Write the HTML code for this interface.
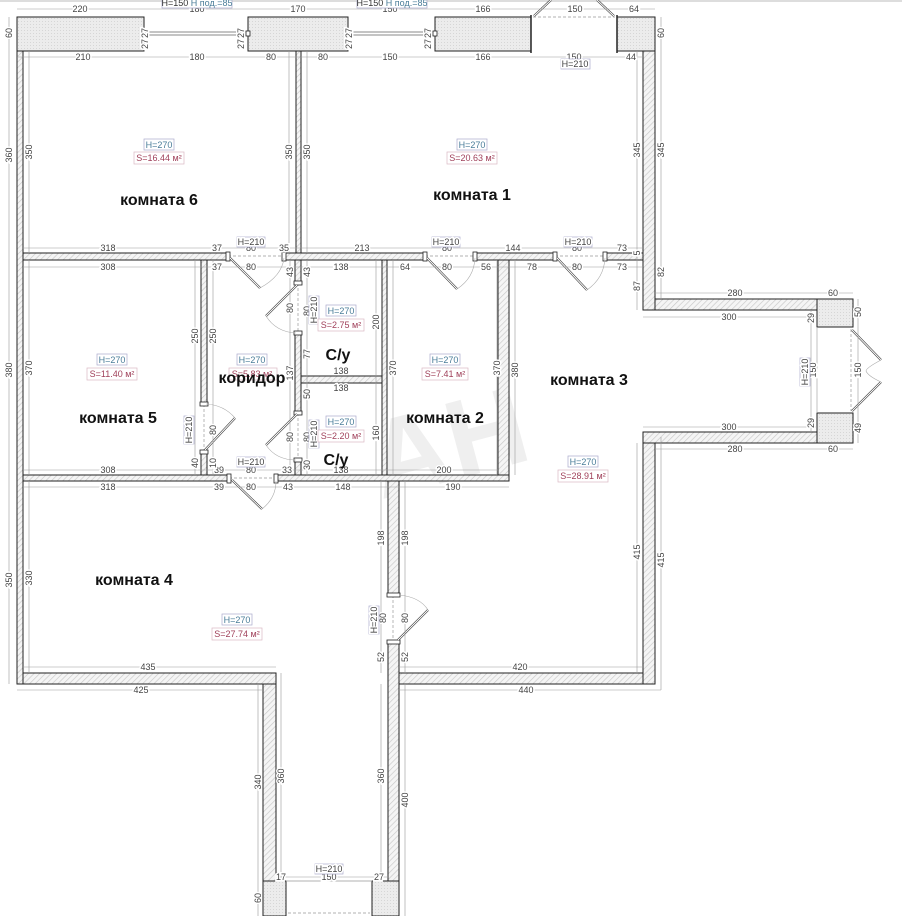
<!DOCTYPE html>
<html><head><meta charset="utf-8"><style>
html,body{margin:0;padding:0;background:#fff}
svg{display:block}
.d{font-family:"Liberation Sans",sans-serif;font-size:9px;fill:#444;text-anchor:middle;paint-order:stroke;stroke:#fff;stroke-width:3px}
.r{font-family:"Liberation Sans","DejaVu Sans",sans-serif;font-size:16px;font-weight:bold;fill:#111;text-anchor:middle}
.hb{fill:#fff;stroke:#aac;stroke-width:.7}
.ht{font-family:"Liberation Sans",sans-serif;font-size:9px;fill:#4a7d99;text-anchor:middle}
.st{font-family:"Liberation Sans",sans-serif;font-size:9px;fill:#a0405a;text-anchor:middle}
.sb{fill:#fff;stroke:#d9b8c2;stroke-width:.7}
.w{fill:url(#h);stroke:#222;stroke-width:1}
.x{fill:url(#g);stroke:#222;stroke-width:1}
.dl{stroke:#999;stroke-width:.6;fill:none}
.dr{stroke:#333;stroke-width:2.2;fill:none}
.dr2{stroke:#fff;stroke-width:1;fill:none}
.arc{stroke:#aaa;stroke-width:.6;fill:none}
.op{stroke:#999;stroke-width:.7;stroke-dasharray:3 2;fill:none}
</style></head><body>
<svg width="902" height="916" viewBox="0 0 902 916" xmlns="http://www.w3.org/2000/svg">
<defs>
<pattern id="h" width="4" height="4" patternUnits="userSpaceOnUse" patternTransform="rotate(45)">
<rect width="4" height="4" fill="#f5f5f5"/><line x1="0" y1="0" x2="0" y2="4" stroke="#c8c8c8" stroke-width="1.3"/></pattern>
<pattern id="g" width="3" height="3" patternUnits="userSpaceOnUse">
<rect width="3" height="3" fill="#ececec"/><rect width="1" height="1" fill="#d6d6d6"/></pattern>
</defs>
<line x1="0" y1="1" x2="902" y2="1" stroke="#bbb" stroke-width="1"/>

<text x="450" y="480" font-family="Liberation Sans,sans-serif" font-size="110" font-weight="bold" fill="#efefef" text-anchor="middle" transform="rotate(-15 450 450)">АН</text>

<rect class="x" x="17" y="17" width="127" height="34"/>
<rect class="x" x="248" y="17" width="100" height="34"/>
<rect class="x" x="435" y="17" width="96" height="34"/>
<rect class="x" x="617" y="17" width="38" height="34"/>
<line x1="144" y1="32" x2="248" y2="32" stroke="#888"/><line x1="144" y1="35" x2="248" y2="35" stroke="#888"/>
<line x1="348" y1="32" x2="435" y2="32" stroke="#888"/><line x1="348" y1="35" x2="435" y2="35" stroke="#888"/>
<line x1="144" y1="17" x2="144" y2="51" stroke="#222"/><line x1="248" y1="17" x2="248" y2="51" stroke="#222"/>
<line x1="348" y1="17" x2="348" y2="51" stroke="#222"/><line x1="435" y1="17" x2="435" y2="51" stroke="#222"/>
<rect x="142" y="31" width="4" height="5" fill="#fff" stroke="#222" stroke-width=".8"/><rect x="246" y="31" width="4" height="5" fill="#fff" stroke="#222" stroke-width=".8"/>
<rect x="346" y="31" width="4" height="5" fill="#fff" stroke="#222" stroke-width=".8"/><rect x="433" y="31" width="4" height="5" fill="#fff" stroke="#222" stroke-width=".8"/>
<line class="op" x1="533" y1="17" x2="615" y2="17"/>
<line class="dr" x1="534" y1="16" x2="551" y2="0"/><line class="dr2" x1="534" y1="16" x2="551" y2="0"/>
<line class="dr" x1="614" y1="16" x2="597" y2="0"/><line class="dr2" x1="614" y1="16" x2="597" y2="0"/>
<line x1="531" y1="15" x2="531" y2="53" stroke="#222" stroke-width="1.5"/><line x1="617" y1="15" x2="617" y2="53" stroke="#222" stroke-width="1.5"/>

<rect class="w" x="17" y="51" width="6" height="633"/>
<rect class="w" x="643" y="51" width="12" height="259"/>
<rect class="w" x="655" y="299" width="162" height="11"/>
<rect class="x" x="817" y="299" width="36" height="28"/>
<rect class="w" x="643" y="432" width="174" height="11"/>
<rect class="x" x="817" y="413" width="36" height="30"/>
<rect class="w" x="643" y="443" width="12" height="241"/>
<rect class="w" x="399" y="673" width="244" height="11"/>
<rect class="w" x="23" y="673" width="253" height="11"/>
<rect class="w" x="263" y="684" width="13" height="197"/>
<rect class="x" x="263" y="881" width="23" height="35"/>
<rect class="w" x="388" y="480" width="11" height="115"/>
<rect class="w" x="388" y="642" width="11" height="239"/>
<rect class="x" x="372" y="881" width="27" height="35"/>
<line class="op" x1="288" y1="913" x2="370" y2="913"/>
<line x1="286" y1="881" x2="372" y2="881" stroke="#999" stroke-width=".7"/>
<line class="op" x1="851" y1="329" x2="851" y2="411"/>
<line x1="817" y1="327" x2="817" y2="413" stroke="#999" stroke-width=".6"/>
<line class="dr" x1="852" y1="330" x2="881" y2="360"/><line class="dr2" x1="852" y1="330" x2="881" y2="360"/>
<line class="dr" x1="852" y1="411" x2="881" y2="382"/><line class="dr2" x1="852" y1="411" x2="881" y2="382"/>
<path class="arc" d="M881 360 Q866 368 866 371 M866 371 Q868 376 881 382"/>

<rect class="w" x="23" y="253" width="205" height="7"/>
<rect class="w" x="284" y="253" width="141" height="7"/>
<rect class="w" x="475" y="253" width="80" height="7"/>
<rect class="w" x="605" y="253" width="38" height="7"/>
<rect class="w" x="296" y="51" width="5" height="202"/>
<rect class="w" x="201" y="260" width="6" height="144"/>
<rect class="w" x="201" y="452" width="6" height="23"/>
<rect class="w" x="295" y="260" width="6" height="23"/>
<rect class="w" x="295" y="333" width="6" height="80"/>
<rect class="w" x="295" y="460" width="6" height="15"/>
<rect class="w" x="301" y="376" width="81" height="7"/>
<rect class="w" x="382" y="260" width="5" height="215"/>
<rect class="w" x="498" y="260" width="11" height="215"/>
<rect class="w" x="23" y="475" width="206" height="6"/>
<rect class="w" x="276" y="475" width="233" height="6"/>

<g>
<line class="op" x1="228" y1="256" x2="284" y2="256"/>
<rect x="226" y="252" width="4" height="9" fill="#fff" stroke="#222" stroke-width=".8"/><rect x="282" y="252" width="4" height="9" fill="#fff" stroke="#222" stroke-width=".8"/>
<line class="dr" x1="230" y1="258" x2="260" y2="288"/><line class="dr2" x1="230" y1="258" x2="260" y2="288"/>
<path class="arc" d="M260 288 Q282 276 284 258"/>
<line class="op" x1="425" y1="256" x2="475" y2="256"/>
<rect x="423" y="252" width="4" height="9" fill="#fff" stroke="#222" stroke-width=".8"/><rect x="473" y="252" width="4" height="9" fill="#fff" stroke="#222" stroke-width=".8"/>
<line class="dr" x1="427" y1="258" x2="457" y2="289"/><line class="dr2" x1="427" y1="258" x2="457" y2="289"/>
<path class="arc" d="M457 289 Q474 278 475 258"/>
<line class="op" x1="555" y1="256" x2="605" y2="256"/>
<rect x="553" y="252" width="4" height="9" fill="#fff" stroke="#222" stroke-width=".8"/><rect x="603" y="252" width="4" height="9" fill="#fff" stroke="#222" stroke-width=".8"/>
<line class="dr" x1="557" y1="258" x2="587" y2="290"/><line class="dr2" x1="557" y1="258" x2="587" y2="290"/>
<path class="arc" d="M587 290 Q604 278 605 258"/>
<line class="op" x1="298" y1="283" x2="298" y2="333"/>
<rect x="294" y="281" width="8" height="4" fill="#fff" stroke="#222" stroke-width=".8"/><rect x="294" y="331" width="8" height="4" fill="#fff" stroke="#222" stroke-width=".8"/>
<line class="dr" x1="297" y1="285" x2="266" y2="316"/><line class="dr2" x1="297" y1="285" x2="266" y2="316"/>
<path class="arc" d="M266 316 Q276 332 296 333"/>
<line class="op" x1="298" y1="413" x2="298" y2="460"/>
<rect x="294" y="411" width="8" height="4" fill="#fff" stroke="#222" stroke-width=".8"/><rect x="294" y="458" width="8" height="4" fill="#fff" stroke="#222" stroke-width=".8"/>
<line class="dr" x1="297" y1="414" x2="266" y2="445"/><line class="dr2" x1="297" y1="414" x2="266" y2="445"/>
<path class="arc" d="M266 445 Q276 460 296 460"/>
<line class="op" x1="204" y1="404" x2="204" y2="452"/>
<rect x="200" y="402" width="8" height="4" fill="#fff" stroke="#222" stroke-width=".8"/><rect x="200" y="450" width="8" height="4" fill="#fff" stroke="#222" stroke-width=".8"/>
<line class="dr" x1="205" y1="450" x2="235" y2="418"/><line class="dr2" x1="205" y1="450" x2="235" y2="418"/>
<path class="arc" d="M235 418 Q224 405 206 404"/>
<line class="op" x1="229" y1="478" x2="276" y2="478"/>
<rect x="227" y="474" width="4" height="9" fill="#fff" stroke="#222" stroke-width=".8"/><rect x="274" y="474" width="4" height="9" fill="#fff" stroke="#222" stroke-width=".8"/>
<line class="dr" x1="232" y1="480" x2="262" y2="509"/><line class="dr2" x1="232" y1="480" x2="262" y2="509"/>
<path class="arc" d="M262 509 Q276 498 276 481"/>
<line class="op" x1="393" y1="595" x2="393" y2="642"/>
<rect x="387" y="593" width="13" height="4" fill="#fff" stroke="#222" stroke-width=".8"/><rect x="387" y="640" width="13" height="4" fill="#fff" stroke="#222" stroke-width=".8"/>
<line class="dr" x1="398" y1="640" x2="428" y2="610"/><line class="dr2" x1="398" y1="640" x2="428" y2="610"/>
<path class="arc" d="M428 610 Q420 597 399 595"/>
</g>

<g class="dl">
<line x1="17" y1="9" x2="655" y2="9"/><line x1="17" y1="57" x2="643" y2="57"/>
<line x1="9" y1="17" x2="9" y2="684"/><line x1="29" y1="51" x2="29" y2="253"/><line x1="289" y1="51" x2="289" y2="253"/>
<line x1="307" y1="51" x2="307" y2="253"/><line x1="637" y1="51" x2="637" y2="310"/><line x1="661" y1="17" x2="661" y2="299"/>
<line x1="23" y1="248" x2="643" y2="248"/><line x1="23" y1="267" x2="643" y2="267"/>
<line x1="23" y1="470" x2="498" y2="470"/><line x1="23" y1="487" x2="509" y2="487"/>
<line x1="29" y1="260" x2="29" y2="475"/><line x1="29" y1="481" x2="29" y2="673"/>
<line x1="195" y1="260" x2="195" y2="475"/><line x1="213" y1="260" x2="213" y2="475"/>
<line x1="290" y1="260" x2="290" y2="475"/><line x1="307" y1="260" x2="307" y2="475"/>
<line x1="376" y1="260" x2="376" y2="475"/><line x1="393" y1="260" x2="393" y2="475"/>
<line x1="497" y1="260" x2="497" y2="475"/><line x1="515" y1="260" x2="515" y2="475"/>
<line x1="381" y1="481" x2="381" y2="673"/><line x1="405" y1="481" x2="405" y2="673"/>
<line x1="23" y1="667" x2="276" y2="667"/><line x1="17" y1="690" x2="263" y2="690"/>
<line x1="399" y1="667" x2="643" y2="667"/><line x1="399" y1="690" x2="661" y2="690"/>
<line x1="637" y1="443" x2="637" y2="673"/><line x1="661" y1="437" x2="661" y2="690"/>
<line x1="258" y1="684" x2="258" y2="916"/><line x1="281" y1="673" x2="281" y2="881"/>
<line x1="381" y1="684" x2="381" y2="881"/><line x1="405" y1="684" x2="405" y2="916"/>
<line x1="276" y1="877" x2="388" y2="877"/>
<line x1="655" y1="293" x2="853" y2="293"/><line x1="643" y1="317" x2="817" y2="317"/>
<line x1="643" y1="427" x2="817" y2="427"/><line x1="655" y1="449" x2="853" y2="449"/>
<line x1="811" y1="310" x2="811" y2="432"/><line x1="858" y1="299" x2="858" y2="443"/>
</g>

<g class="d">
<text x="80" y="12">220</text><text x="197" y="12">180</text><text x="298" y="12">170</text><text x="390" y="12">150</text><text x="483" y="12">166</text><text x="575" y="12">150</text><text x="634" y="12">64</text>
<text x="83" y="60">210</text><text x="197" y="60">180</text><text x="271" y="60">80</text><text x="323" y="60">80</text><text x="390" y="60">150</text><text x="483" y="60">166</text><text x="574" y="60">150</text><text x="631" y="60">44</text>
<text x="108" y="251">318</text><text x="217" y="251">37</text><text x="251" y="251">80</text><text x="284" y="251">35</text><text x="362" y="251">213</text><text x="447" y="251">80</text><text x="513" y="251">144</text><text x="577" y="251">80</text><text x="622" y="251">73</text>
<text x="108" y="270">308</text><text x="217" y="270">37</text><text x="251" y="270">80</text><text x="341" y="270">138</text><text x="405" y="270">64</text><text x="447" y="270">80</text><text x="486" y="270">56</text><text x="532" y="270">78</text><text x="577" y="270">80</text><text x="622" y="270">73</text>
<text x="341" y="374">138</text><text x="341" y="391">138</text><text x="341" y="473">138</text><text x="444" y="473">200</text>
<text x="108" y="473">308</text><text x="219" y="473">39</text><text x="251" y="473">80</text><text x="287" y="473">33</text>
<text x="108" y="490">318</text><text x="219" y="490">39</text><text x="251" y="490">80</text><text x="288" y="490">43</text><text x="343" y="490">148</text><text x="453" y="490">190</text>
<text x="148" y="670">435</text><text x="141" y="693">425</text><text x="520" y="670">420</text><text x="526" y="693">440</text>
<text x="281" y="880">17</text><text x="329" y="880">150</text><text x="379" y="880">27</text>
<text x="735" y="296">280</text><text x="833" y="296">60</text><text x="729" y="320">300</text><text x="729" y="430">300</text><text x="735" y="452">280</text><text x="833" y="452">60</text>
</g>
<g class="d">
<text transform="translate(12,33) rotate(-90)">60</text>
<text transform="translate(12,155) rotate(-90)">360</text>
<text transform="translate(12,370) rotate(-90)">380</text>
<text transform="translate(12,580) rotate(-90)">350</text>
<text transform="translate(32,152) rotate(-90)">350</text>
<text transform="translate(292,152) rotate(-90)">350</text>
<text transform="translate(310,152) rotate(-90)">350</text>
<text transform="translate(640,150) rotate(-90)">345</text>
<text transform="translate(664,150) rotate(-90)">345</text>
<text transform="translate(664,33) rotate(-90)">60</text>
<text transform="translate(664,272) rotate(-90)">82</text>
<text transform="translate(640,286) rotate(-90)">87</text>
<text transform="translate(640,253) rotate(-90)">5</text>
<text transform="translate(148,33) rotate(-90)">27</text><text transform="translate(148,44) rotate(-90)">27</text>
<text transform="translate(244,33) rotate(-90)">27</text><text transform="translate(244,44) rotate(-90)">27</text>
<text transform="translate(352,33) rotate(-90)">27</text><text transform="translate(352,44) rotate(-90)">27</text>
<text transform="translate(431,33) rotate(-90)">27</text><text transform="translate(431,44) rotate(-90)">27</text>
<text transform="translate(32,368) rotate(-90)">370</text>
<text transform="translate(198,336) rotate(-90)">250</text>
<text transform="translate(216,336) rotate(-90)">250</text>
<text transform="translate(198,463) rotate(-90)">40</text>
<text transform="translate(216,430) rotate(-90)">80</text>
<text transform="translate(216,463) rotate(-90)">10</text>
<text transform="translate(293,272) rotate(-90)">43</text>
<text transform="translate(310,272) rotate(-90)">43</text>
<text transform="translate(293,308) rotate(-90)">80</text>
<text transform="translate(310,311) rotate(-90)">80</text>
<text transform="translate(310,354) rotate(-90)">77</text>
<text transform="translate(293,373) rotate(-90)">137</text>
<text transform="translate(310,394) rotate(-90)">50</text>
<text transform="translate(293,437) rotate(-90)">80</text>
<text transform="translate(310,437) rotate(-90)">80</text>
<text transform="translate(310,465) rotate(-90)">30</text>
<text transform="translate(379,322) rotate(-90)">200</text>
<text transform="translate(379,433) rotate(-90)">160</text>
<text transform="translate(396,368) rotate(-90)">370</text>
<text transform="translate(500,368) rotate(-90)">370</text>
<text transform="translate(518,370) rotate(-90)">380</text>
<text transform="translate(32,578) rotate(-90)">330</text>
<text transform="translate(384,538) rotate(-90)">198</text>
<text transform="translate(408,538) rotate(-90)">198</text>
<text transform="translate(386,618) rotate(-90)">80</text>
<text transform="translate(408,618) rotate(-90)">80</text>
<text transform="translate(384,657) rotate(-90)">52</text>
<text transform="translate(408,657) rotate(-90)">52</text>
<text transform="translate(640,552) rotate(-90)">415</text>
<text transform="translate(664,560) rotate(-90)">415</text>
<text transform="translate(261,782) rotate(-90)">340</text>
<text transform="translate(284,776) rotate(-90)">360</text>
<text transform="translate(384,776) rotate(-90)">360</text>
<text transform="translate(408,800) rotate(-90)">400</text>
<text transform="translate(261,898) rotate(-90)">60</text>
<text transform="translate(814,318) rotate(-90)">29</text>
<text transform="translate(814,423) rotate(-90)">29</text>
<text transform="translate(816,370) rotate(-90)">150</text>
<text transform="translate(861,370) rotate(-90)">150</text>
<text transform="translate(861,312) rotate(-90)">50</text>
<text transform="translate(861,428) rotate(-90)">49</text>
</g>

<g>
<rect class="hb" x="162" y="-3" width="70" height="11"/><text class="ht" x="197" y="6"><tspan fill="#333">H=150</tspan> H под.=85</text>
<rect class="hb" x="357" y="-3" width="70" height="11"/><text class="ht" x="392" y="6"><tspan fill="#333">H=150</tspan> H под.=85</text>
<rect class="hb" x="561" y="59" width="29" height="10" stroke="#999"/><text class="d" x="575" y="67">H=210</text>
<rect class="hb" x="237" y="237" width="28" height="10" stroke="#999"/><text class="d" x="251" y="245">H=210</text>
<rect class="hb" x="432" y="237" width="28" height="10" stroke="#999"/><text class="d" x="446" y="245">H=210</text>
<rect class="hb" x="564" y="237" width="28" height="10" stroke="#999"/><text class="d" x="578" y="245">H=210</text>
<rect class="hb" x="237" y="457" width="28" height="10" stroke="#999"/><text class="d" x="251" y="465">H=210</text>
<rect class="hb" x="315" y="864" width="28" height="10" stroke="#999"/><text class="d" x="329" y="872">H=210</text>
<g transform="translate(190,430) rotate(-90)"><rect class="hb" x="-14" y="-6" width="28" height="10" stroke="#999"/><text class="d" x="0" y="2">H=210</text></g>
<g transform="translate(315,310) rotate(-90)"><rect class="hb" x="-14" y="-6" width="28" height="10" stroke="#999"/><text class="d" x="0" y="2">H=210</text></g>
<g transform="translate(315,434) rotate(-90)"><rect class="hb" x="-14" y="-6" width="28" height="10" stroke="#999"/><text class="d" x="0" y="2">H=210</text></g>
<g transform="translate(375,620) rotate(-90)"><rect class="hb" x="-14" y="-6" width="28" height="10" stroke="#999"/><text class="d" x="0" y="2">H=210</text></g>
<g transform="translate(806,372) rotate(-90)"><rect class="hb" x="-14" y="-6" width="28" height="10" stroke="#999"/><text class="d" x="0" y="2">H=210</text></g>
</g>

<g>
<rect class="hb" x="144" y="139" width="30" height="11"/><text class="ht" x="159" y="148">H=270</text>
<rect class="sb" x="134" y="152" width="50" height="12"/><text class="st" x="159" y="161">S=16.44 м²</text>
<rect class="hb" x="457" y="139" width="30" height="11"/><text class="ht" x="472" y="148">H=270</text>
<rect class="sb" x="447" y="152" width="50" height="12"/><text class="st" x="472" y="161">S=20.63 м²</text>
<rect class="hb" x="97" y="354" width="30" height="11"/><text class="ht" x="112" y="363">H=270</text>
<rect class="sb" x="87" y="368" width="50" height="12"/><text class="st" x="112" y="377">S=11.40 м²</text>
<rect class="hb" x="237" y="354" width="30" height="11"/><text class="ht" x="252" y="363">H=270</text>
<rect class="sb" x="229" y="368" width="48" height="12"/><text class="st" x="252" y="377">S=5.83 м²</text>
<rect class="hb" x="326" y="305" width="30" height="11"/><text class="ht" x="341" y="314">H=270</text>
<rect class="sb" x="318" y="319" width="46" height="12"/><text class="st" x="341" y="328">S=2.75 м²</text>
<rect class="hb" x="326" y="416" width="30" height="11"/><text class="ht" x="341" y="425">H=270</text>
<rect class="sb" x="318" y="430" width="46" height="12"/><text class="st" x="341" y="439">S=2.20 м²</text>
<rect class="hb" x="430" y="354" width="30" height="11"/><text class="ht" x="445" y="363">H=270</text>
<rect class="sb" x="422" y="368" width="46" height="12"/><text class="st" x="445" y="377">S=7.41 м²</text>
<rect class="hb" x="568" y="456" width="30" height="11"/><text class="ht" x="583" y="465">H=270</text>
<rect class="sb" x="558" y="470" width="50" height="12"/><text class="st" x="583" y="479">S=28.91 м²</text>
<rect class="hb" x="222" y="614" width="30" height="11"/><text class="ht" x="237" y="623">H=270</text>
<rect class="sb" x="212" y="628" width="50" height="12"/><text class="st" x="237" y="637">S=27.74 м²</text>
</g>

<text class="r" x="159" y="205">комната 6</text>
<text class="r" x="472" y="200">комната 1</text>
<text class="r" x="118" y="423">комната 5</text>
<text class="r" x="252" y="383">коридор</text>
<text class="r" x="338" y="360">С/у</text>
<text class="r" x="336" y="465">С/у</text>
<text class="r" x="445" y="423">комната 2</text>
<text class="r" x="589" y="385">комната 3</text>
<text class="r" x="134" y="585">комната 4</text>
</svg>
</body></html>
